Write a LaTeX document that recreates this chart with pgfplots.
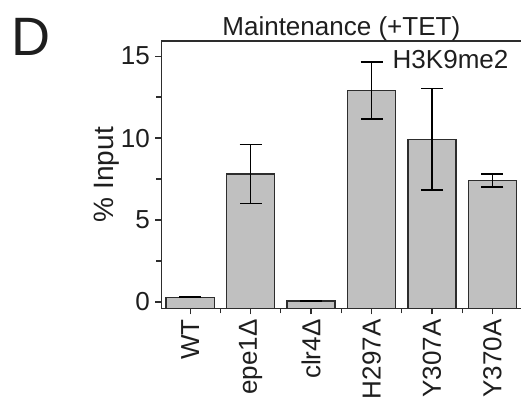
\documentclass[border=0pt]{standalone}
\usepackage{fontspec}
\setmainfont{Liberation Sans}
\usepackage{pgfplots}
\usepackage{pgfplotstable}
\pgfplotsset{compat=1.18}
\definecolor{barfill}{RGB}{192,192,192}
\definecolor{edge}{RGB}{45,45,45}
\definecolor{txt}{RGB}{30,30,30}

\pgfplotstableread{
x y err
0 0.29 0.03
1 7.80 1.80
2 0.06 0.00
3 12.90 1.72
4 9.92 3.10
5 7.42 0.40
}\datatable

\begin{document}
\begin{tikzpicture}[x=1pt,y=1pt]
\path[use as bounding box] (-161,-92) rectangle (359.5,308);
\begin{axis}[
  at={(0,0)}, anchor=south west,
  scale only axis, width=360pt, height=267pt,
  xmin=-0.48, xmax=5.48,
  ymin=0, ymax=16.31,
  clip=false,
  axis line style={edge, line width=1.2pt},
  tick align=outside,
  ytick pos=left, xtick pos=bottom,
  ytick={0.39,5.39,10.39,15.39},
  yticklabels={0,5,10,15},
  minor ytick={2.89,7.89,12.89},
  xtick={0,1,2,3,4,5},
  xticklabels={WT,epe1Δ,clr4Δ,H297A,Y307A,Y370A},
  minor xtick={0.5,1.5,2.5,3.5,4.5},
  major tick length=6pt, minor tick length=5pt,
  every tick/.style={edge, line width=1.2pt},
  tick label style={font=\fontsize{26}{30}\selectfont, text=txt},
  yticklabel style={inner sep=5pt},
  xticklabel style={rotate=90, anchor=east, inner sep=5pt},
  y filter/.expression={y+0.39},
]
\addplot[ybar, bar width=48pt, fill=barfill, draw=edge, line width=1.3pt,
  error bars/.cd, y dir=both, y explicit,
  error bar style={black, line width=1.7pt},
  error mark options={rotate=90, mark size=11pt, line width=1.7pt, black}]
  table[x=x, y=y, y error=err] {\datatable};
\node[anchor=base, text=txt, font=\fontsize{26}{30}\selectfont, inner sep=0pt]
  at (rel axis cs:0.5,1) [yshift=6pt] {Maintenance (+TET)};
\node[anchor=base west, text=txt, font=\fontsize{26}{30}\selectfont, inner sep=0pt]
  at (rel axis cs:0.642,0.899) {H3K9me2};
\end{axis}
\node[rotate=90, anchor=base, text=txt, font=\fontsize{28}{30}\selectfont, inner sep=0pt]
  at (-48,133.5) {\% Input};
\node[anchor=base west, text=txt, font=\fontsize{54}{60}\selectfont, inner sep=0pt]
  at (-150,253) {D};
\end{tikzpicture}
\end{document}
